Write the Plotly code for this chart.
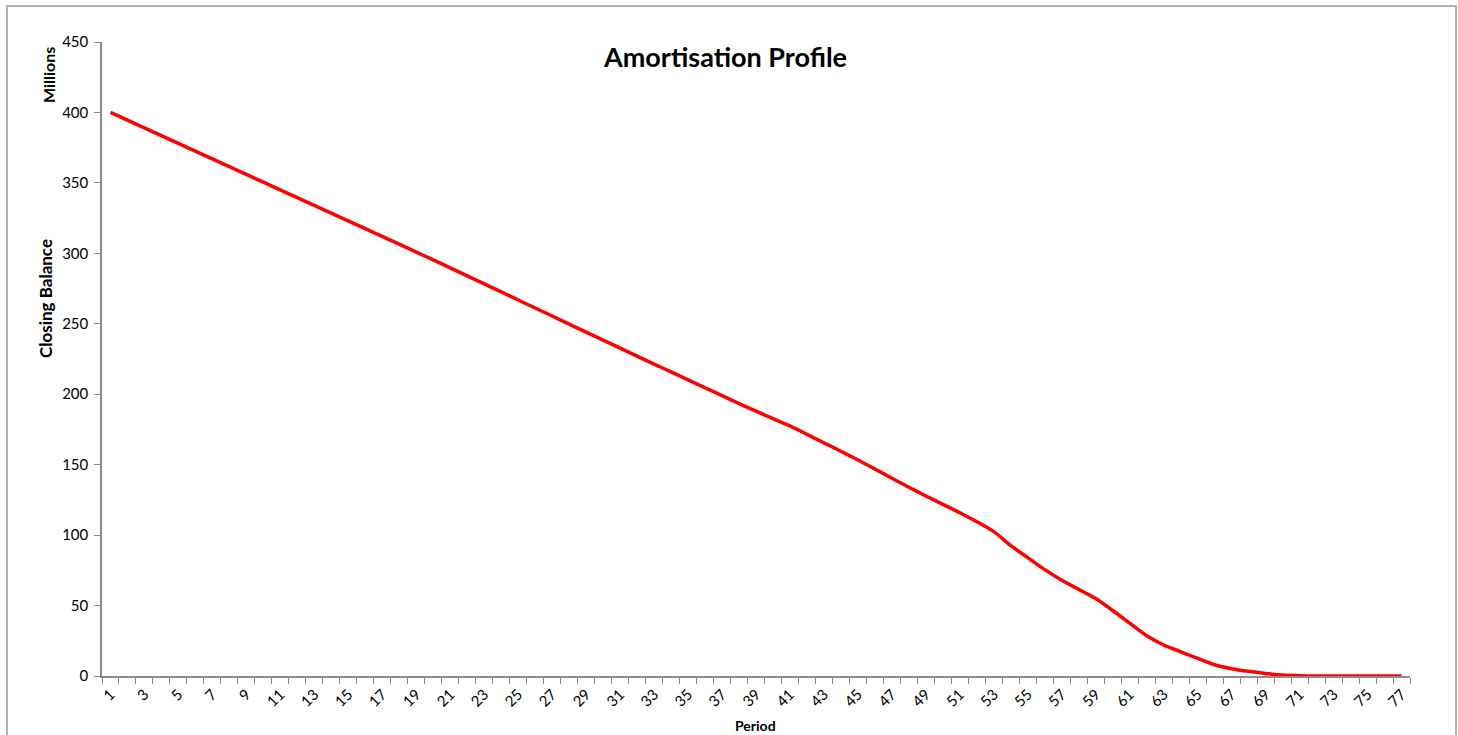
import plotly.graph_objects as go

# Loan closing balance per period (millions)
periods = list(range(1, 78))
closing_balance = [
    400.0, 394.5, 389.0, 383.5, 378.0, 372.5, 367.0, 361.5, 356.0, 350.5,
    345.0, 339.5, 334.0, 328.5, 323.0, 317.5, 312.0, 306.5, 300.9, 295.3,
    289.7, 284.0, 278.3, 272.6, 266.9, 261.2, 255.5, 249.8, 244.1, 238.4,
    232.7, 227.0, 221.4, 215.8, 210.2, 204.6, 199.0, 193.4, 188.0, 182.7,
    177.5, 171.5, 165.5, 159.5, 153.3, 146.9, 140.4, 134.0, 127.8, 121.8,
    115.9, 109.5, 102.5, 92.5, 84.0, 75.5, 68.0, 61.5, 55.0, 46.5,
    37.5, 28.5, 22.0, 17.2, 12.5, 8.0, 5.2, 3.3, 1.8, 0.7,
    0.2, 0.0, 0.0, 0.0, 0.0, 0.0, 0.0,
]
x_tick_labels = [str(p) for p in periods if p % 2 == 1]
y_ticks = list(range(0, 451, 50))

W, H = 1458, 735
ML, MR, MT, MB = 102, 48, 42, 59
PW = W - ML - MR
PH = H - MT - MB

def px_x(x):
    return (x - ML) / PW

def px_y(y):
    return (H - MB - y) / PH

FONT = "Lato, 'Open Sans', sans-serif"
AXIS_GREY = "#8c8c8c"

fig = go.Figure()
fig.add_trace(go.Scatter(
    x=periods,
    y=closing_balance,
    mode="lines",
    line=dict(color="#ff0000", width=3.5, shape="spline", smoothing=0.8),
    hoverinfo="x+y",
    showlegend=False,
))

fig.update_layout(
    width=W,
    height=H,
    margin=dict(l=ML, r=MR, t=MT, b=MB, pad=0),
    paper_bgcolor="white",
    plot_bgcolor="white",
    font=dict(family=FONT, size=15, color="black"),
    xaxis=dict(
        range=[0.5, 77.5],
        tickmode="array",
        tickvals=[int(t) for t in x_tick_labels],
        ticktext=x_tick_labels,
        tickangle=-45,
        ticks="",
        showgrid=False,
        zeroline=False,
        showline=True,
        linecolor=AXIS_GREY,
        linewidth=1.5,
        tickfont=dict(family=FONT, size=15),
        ticklabelstandoff=2,
        minor=dict(
            tickmode="linear",
            tick0=0.5,
            dtick=1,
            ticks="outside",
            ticklen=6,
            tickcolor=AXIS_GREY,
            tickwidth=1,
            showgrid=False,
        ),
    ),
    yaxis=dict(
        range=[0, 450],
        tickmode="array",
        tickvals=y_ticks,
        ticktext=[str(v) for v in y_ticks],
        ticks="outside",
        ticklen=6,
        tickcolor=AXIS_GREY,
        showgrid=False,
        zeroline=False,
        showline=True,
        linecolor=AXIS_GREY,
        linewidth=1.5,
        tickfont=dict(family=FONT, size=15),
        ticklabelstandoff=3,
    ),
    shapes=[
        dict(
            type="rect", xref="paper", yref="paper",
            x0=px_x(7), x1=px_x(1456), y0=px_y(745), y1=px_y(6),
            line=dict(color="#b4b4b4", width=2),
            fillcolor="rgba(0,0,0,0)",
            layer="below",
        )
    ],
    annotations=[
        dict(text="<b>Amortisation Profile</b>", xref="paper", yref="paper",
             x=px_x(725), y=px_y(57), showarrow=False,
             font=dict(family=FONT, size=27), xanchor="center", yanchor="middle"),
        dict(text="<b>Closing Balance</b>", xref="paper", yref="paper",
             x=px_x(45), y=px_y(299), showarrow=False, textangle=-90,
             font=dict(family=FONT, size=17), xanchor="center", yanchor="middle"),
        dict(text="<b>Millions</b>", xref="paper", yref="paper",
             x=px_x(48), y=px_y(75), showarrow=False, textangle=-90,
             font=dict(family=FONT, size=16), xanchor="center", yanchor="middle"),
        dict(text="<b>Period</b>", xref="paper", yref="paper",
             x=px_x(755), y=px_y(725), showarrow=False,
             font=dict(family=FONT, size=14), xanchor="center", yanchor="middle"),
    ],
)

fig.write_html("out.html")
